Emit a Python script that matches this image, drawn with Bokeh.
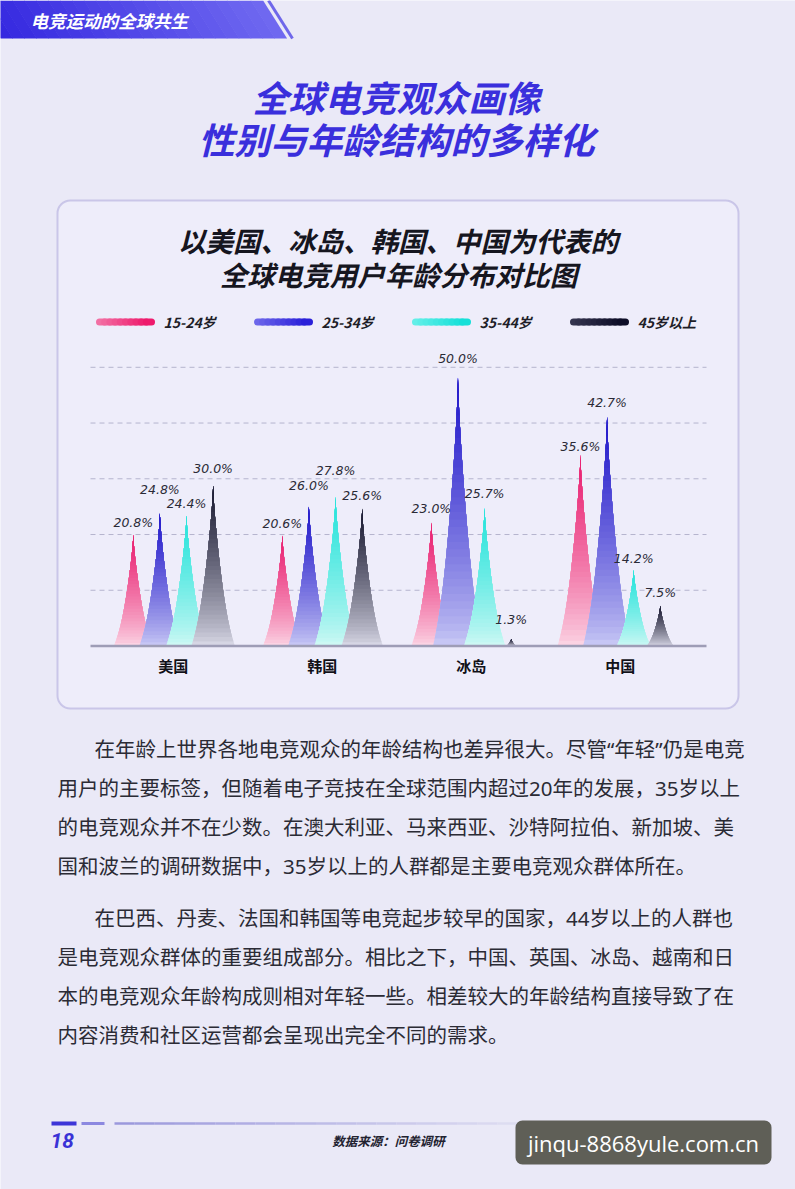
import numpy as np
from bokeh.plotting import figure
from bokeh.models import Range1d, BoxAnnotation, Label
from bokeh.embed import file_html
from bokeh.resources import INLINE
from bokeh.core.properties import value

# ---------------- data ----------------
countries = ["美国", "韩国", "冰岛", "中国"]
age_groups = ["15-24岁", "25-34岁", "35-44岁", "45岁以上"]
share_15_24 = [20.8, 20.6, 23.0, 35.6]
share_25_34 = [24.8, 26.0, 50.0, 42.7]
share_35_44 = [24.4, 27.8, 25.7, 14.2]
share_45_up = [30.0, 25.6, 1.3, 7.5]
series = [share_15_24, share_25_34, share_35_44, share_45_up]

header_text = "电竞运动的全球共生"
page_title = ["全球电竞观众画像", "性别与年龄结构的多样化"]
chart_title = ["以美国、冰岛、韩国、中国为代表的", "全球电竞用户年龄分布对比图"]
para1 = [
    "在年龄上世界各地电竞观众的年龄结构也差异很大。尽管“年轻”仍是电竞",
    "用户的主要标签，但随着电子竞技在全球范围内超过20年的发展，35岁以上",
    "的电竞观众并不在少数。在澳大利亚、马来西亚、沙特阿拉伯、新加坡、美",
    "国和波兰的调研数据中，35岁以上的人群都是主要电竞观众群体所在。",
]
para2 = [
    "在巴西、丹麦、法国和韩国等电竞起步较早的国家，44岁以上的人群也",
    "是电竞观众群体的重要组成部分。相比之下，中国、英国、冰岛、越南和日",
    "本的电竞观众年龄构成则相对年轻一些。相差较大的年龄结构直接导致了在",
    "内容消费和社区运营都会呈现出完全不同的需求。",
]
page_number = "18"
source_text = "数据来源：问卷调研"
watermark = "jinqu-8868yule.com.cn"

# ---------------- style ----------------
BG = "#eae9f7"
CJK = "Noto Sans CJK SC"
top_colors = ["#e8186c", "#1c12c9", "#1fe2da", "#13132b"]
bottom_colors = ["#fbd3e3", "#c6c6f4", "#cdf8f4", "#d6d6e4"]
legend_light = ["#f26fa3", "#6c66ea", "#62efe8", "#34344e"]
legend_strong = ["#ee1a6c", "#2a20d9", "#16e0d8", "#0d0d27"]
# label nudges (pixels above the peak), by country then series
label_lift = [[12, 23, 11, 16], [12, 21, 26, 13], [14, 19, 14, 20], [8, 14, 11, 13]]

# chart placement on the page (page pixels)
CX0, GROUP_PX = 172.7, 149.05     # first group centre, group pitch
BASE_Y, PX_PER_PCT = 645.5, 5.37  # baseline and vertical scale
GRID_STEP = 10.38
SERIES_OFFSET = 0.1785

W, H = 795, 1189


def hex2rgb(h):
    h = h.lstrip("#")
    return np.array([int(h[i:i + 2], 16) for i in (0, 2, 4)], dtype=float)


def mix(c1, c2, f):
    a, b = hex2rgb(c1), hex2rgb(c2)
    c = a + (b - a) * f
    return "#%02x%02x%02x" % tuple(int(round(x)) for x in c)


p = figure(width=W, height=H, x_range=Range1d(0, W), y_range=Range1d(H, 0),
           output_backend="svg", toolbar_location=None, min_border=0,
           x_axis_location=None, y_axis_location=None)
p.background_fill_color = BG
p.border_fill_color = BG
p.outline_line_color = None
p.xgrid.visible = False
p.ygrid.visible = False

p.extra_x_ranges = {"cx": Range1d(start=(0 - CX0) / GROUP_PX, end=(W - CX0) / GROUP_PX)}
p.extra_y_ranges = {"cy": Range1d(start=(BASE_Y - H) / PX_PER_PCT, end=BASE_Y / PX_PER_PCT)}

# ---------------- header banner ----------------
n_sl = 24
edges = np.linspace(-24, 262, n_sl + 1)
bx, by, bc = [], [], []
for i in range(n_sl):
    a, b = edges[i], edges[i + 1] + 0.6
    bx.append([a, b, b + 24, a + 24])
    by.append([0, 0, 38, 38])
    bc.append(mix("#3529e0", "#6f68f0", i / (n_sl - 1)))
p.patches(bx, by, fill_color=bc, line_color=None)
p.line([268, 292], [0, 38], line_color="#6f67ea", line_width=3)
p.text(x=[30], y=[20], text=[header_text], text_color="white",
       text_font=value(CJK), text_font_size="17.5px", text_font_style="bold italic",
       text_baseline="middle", text_align="left")

# ---------------- page title ----------------
p.text(x=[396, 396], y=[95, 137], text=page_title, text_color="#3a2fdc",
       text_font=value(CJK), text_font_size="36px", text_font_style="bold italic",
       text_align="center", text_baseline="middle")

# ---------------- chart box ----------------
box = BoxAnnotation(left=57, right=738, top=200, bottom=708, fill_color="#eeedfa",
                    fill_alpha=1, line_color="#7a70c4", line_width=2,
                    border_radius=13, level="underlay")
p.add_layout(box)

p.text(x=[397.5, 398], y=[239, 273], text=chart_title, text_color="#16161f",
       text_font=value(CJK), text_font_size="27.5px", text_font_style="bold italic",
       text_align="center", text_baseline="middle")

# legend
for i, name in enumerate(age_groups):
    x0 = 99 + 158 * i
    x1 = x0 + 52
    nseg = 10
    xs = np.linspace(x0, x1, nseg + 1)
    p.segment(x0=xs[:-1], x1=xs[1:], y0=[321.5] * nseg, y1=[321.5] * nseg,
              line_color=[mix(legend_light[i], legend_strong[i], k / (nseg - 1)) for k in range(nseg)],
              line_width=7, line_cap="round")
    p.text(x=[163 + 158 * i], y=[321], text=[name], text_color="#1e1e28",
           text_font=value(CJK), text_font_size="14px", text_font_style="bold italic",
           text_align="left", text_baseline="middle")

# grid lines
gx0, gx1 = (90 - CX0) / GROUP_PX, (706 - CX0) / GROUP_PX
levels = [GRID_STEP * k for k in range(1, 6)]
p.segment(x0=[gx0] * 5, x1=[gx1] * 5, y0=levels, y1=levels,
          x_range_name="cx", y_range_name="cy",
          line_color="#b5b4ce", line_width=1, line_dash="5 4")


def spike(cx, v, t0, n=44):
    half = 0.0426 * np.log1p(v)
    ts = np.linspace(t0, 1, n)
    hw = half * (0.8 * (1 - ts) ** 1.35 + 0.2 * (1 - ts) ** 7)
    xs = np.concatenate([cx - hw, (cx + hw)[::-1]])
    ys = np.concatenate([ts * v, (ts * v)[::-1]])
    return list(xs), list(ys)


bands = np.linspace(0, 0.97, 36)
for s, vals in enumerate(series):
    xs_all, ys_all, cols = [], [], []
    for g, v in enumerate(vals):
        cx = g + (s - 1.5) * SERIES_OFFSET
        for t0 in bands:
            xs, ys = spike(cx, v, t0)
            xs_all.append(xs)
            ys_all.append(ys)
            cols.append(mix(bottom_colors[s], top_colors[s], t0 ** 0.8))
    p.patches(xs_all, ys_all, fill_color=cols, line_color=None,
              x_range_name="cx", y_range_name="cy")

# baseline
p.segment(x0=[gx0], x1=[gx1], y0=[0], y1=[0], x_range_name="cx", y_range_name="cy",
          line_color="#9e9db6", line_width=2.5)

# value labels
for s, vals in enumerate(series):
    p.text(x=[g + (s - 1.5) * SERIES_OFFSET for g in range(len(vals))], y=vals,
           text=[f"{v:.1f}%" for v in vals], x_range_name="cx", y_range_name="cy",
           text_color="#2a2a36", text_font=value("DejaVu Sans"), text_font_size="12.5px",
           text_font_style="italic", text_align="center", text_baseline="middle",
           y_offset=[-label_lift[g][s] for g in range(len(vals))])

# category labels
p.text(x=list(range(len(countries))), y=[0] * len(countries), text=countries,
       x_range_name="cx", y_range_name="cy", y_offset=19,
       text_color="#111118", text_font=value(CJK), text_font_size="15px",
       text_font_style="bold", text_align="center", text_baseline="middle")

# ---------------- paragraphs ----------------
def para(lines, y0):
    xs = [94] + [57] * (len(lines) - 1)
    ys = [y0 + 39.3 * k for k in range(len(lines))]
    p.text(x=xs, y=ys, text=lines, text_color="#2b2b35",
           text_font=value("Noto Sans, Noto Sans CJK SC"), text_font_size="20.5px",
           text_align="left", text_baseline="middle")


para(para1, 748)
para(para2, 917)

# ---------------- footer ----------------
p.segment(x0=[51], x1=[76], y0=[1123], y1=[1123], line_color="#3d35d8", line_width=4)
p.segment(x0=[81], x1=[104], y0=[1123], y1=[1123], line_color="#8c88e0", line_width=3)
nf = 20
fx = np.linspace(114, 517, nf + 1)
p.segment(x0=fx[:-1], x1=fx[1:], y0=[1123] * nf, y1=[1123] * nf,
          line_color=[mix("#9b98dc", "#dddcf1", k / (nf - 1)) for k in range(nf)],
          line_width=2.5)
p.text(x=[50], y=[1140], text=[page_number], text_color="#3a32d6",
       text_font=value("Roboto"), text_font_size="21px", text_font_style="bold italic",
       text_align="left", text_baseline="middle")
p.text(x=[388], y=[1140], text=[source_text], text_color="#222230",
       text_font=value(CJK), text_font_size="12.5px", text_font_style="bold italic",
       text_align="center", text_baseline="middle")

wm = BoxAnnotation(left=515, right=771, top=1120, bottom=1164, fill_color="#5f5f57",
                   fill_alpha=1, line_color=None, border_radius=7)
p.add_layout(wm)
p.add_layout(Label(x=643, y=1142, text=watermark, text_color="white",
                   text_font="Open Sans", text_font_size="22px",
                   text_align="center", text_baseline="middle"))

open("out.html", "w").write(file_html(p, INLINE))
